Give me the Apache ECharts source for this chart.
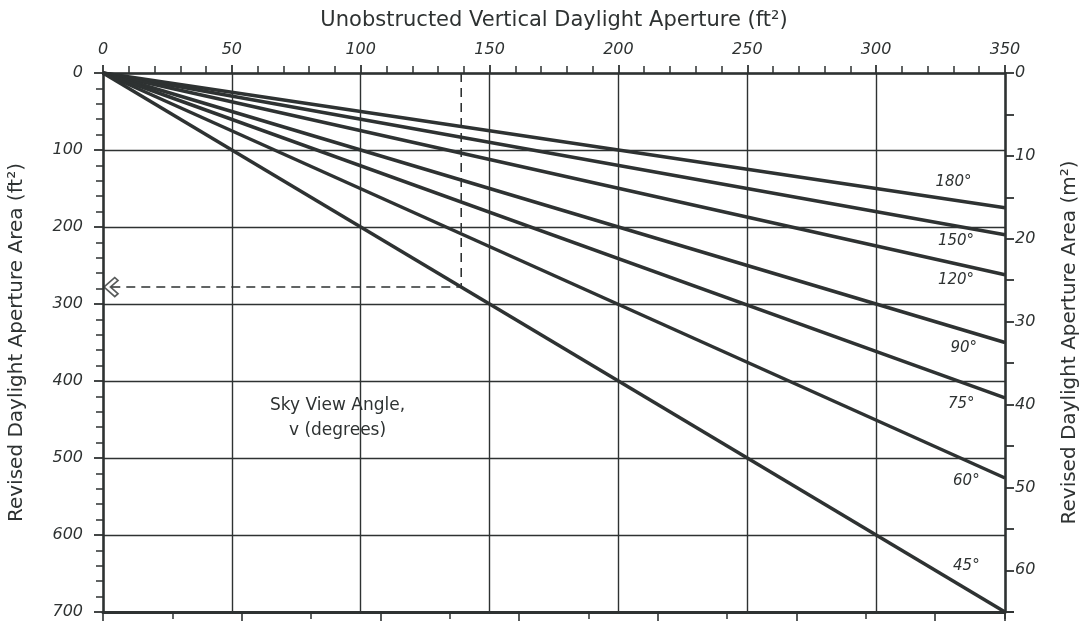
<!DOCTYPE html>
<html>
<head>
<meta charset="utf-8">
<script src="https://cdn.jsdelivr.net/npm/echarts@6/dist/echarts.min.js"></script>
<style>
html,body{margin:0;padding:0;background:#fff;}
#chart{width:1085px;height:628px;}
</style>
</head>
<body>
<div id="chart"></div>
<script>
// ---- data ----
const angleLabels = ['180°', '150°', '120°', '90°', '75°', '60°', '45°'];
// revised area (ft²) at unobstructed aperture = 350 ft²
const startX = 0;
const endX = 350;
const endValues = [175, 210, 262, 350, 422, 526, 700];
// label anchor positions (data units) for each angle label
const labelX = [330, 331, 331, 334, 333, 335, 335];
const labelY = [142, 218, 269, 357, 430, 530, 640];
// example reading (dashed construction line)
const exampleX = 139;
const exampleY = 278;
// axis tick values
const topTicks = [0, 50, 100, 150, 200, 250, 300, 350];
const leftTicks = [0, 100, 200, 300, 400, 500, 600, 700];
const rightTicks = [0, 10, 20, 30, 40, 50, 60];
const FT2_PER_M2 = 10.7639;

const INK = '#2e3232';
const FONT = 'DejaVu Sans';

const chart = echarts.init(document.getElementById('chart'), null, {renderer: 'canvas'});

const lineSeries = angleLabels.map((name, i) => ({
  name: name,
  type: 'line',
  xAxisIndex: 0,
  yAxisIndex: 0,
  data: [[startX, 0], [endX, endValues[i]]],
  symbol: 'none',
  lineStyle: {color: INK, width: 3.5},
  z: 5,
  silent: true,
  markPoint: {
    symbol: 'circle',
    symbolSize: 1,
    itemStyle: {color: 'rgba(0,0,0,0)'},
    label: {
      show: true,
      position: 'inside',
      formatter: name,
      color: INK,
      fontFamily: FONT,
      fontStyle: 'italic',
      fontSize: 15
    },
    data: [{coord: [labelX[i], labelY[i]]}]
  }
}));

const axisLabelStyle = {
  color: INK,
  fontFamily: FONT,
  fontStyle: 'italic',
  fontSize: 16
};

const option = {
  backgroundColor: '#ffffff',
  animation: false,
  grid: {left: 103, right: 80, top: 73, bottom: 16, containLabel: false, outerBoundsMode: 'none'},
  xAxis: [
    {
      type: 'value',
      position: 'top',
      min: topTicks[0],
      max: topTicks[topTicks.length - 1],
      interval: 50,
      name: 'Unobstructed Vertical Daylight Aperture (ft²)',
      nameLocation: 'middle',
      nameGap: 42,
      nameTextStyle: {color: INK, fontFamily: FONT, fontSize: 21},
      axisLine: {show: true, onZero: false, lineStyle: {color: INK, width: 2.5}},
      axisTick: {show: true, length: 8, lineStyle: {color: INK, width: 1.8}},
      minorTick: {show: true, splitNumber: 5, length: 7, lineStyle: {color: INK, width: 1.5}},
      splitLine: {show: true, lineStyle: {color: INK, width: 1.4}},
      axisLabel: Object.assign({margin: 15}, axisLabelStyle)
    },
    {
      type: 'value',
      position: 'bottom',
      min: 0,
      max: endX / FT2_PER_M2,
      interval: 5,
      axisLine: {show: true, onZero: false, lineStyle: {color: INK, width: 3}},
      axisTick: {show: true, length: 9, lineStyle: {color: INK, width: 1.6}},
      minorTick: {show: true, splitNumber: 2, length: 7, lineStyle: {color: INK, width: 1.5}},
      splitLine: {show: false},
      axisLabel: {show: false}
    }
  ],
  yAxis: [
    {
      type: 'value',
      position: 'left',
      inverse: true,
      min: leftTicks[0],
      max: leftTicks[leftTicks.length - 1],
      interval: 100,
      name: 'Revised Daylight Aperture Area (ft²)',
      nameLocation: 'middle',
      nameGap: 76,
      nameRotate: 90,
      nameTextStyle: {color: INK, fontFamily: FONT, fontSize: 20},
      axisLine: {show: true, onZero: false, lineStyle: {color: INK, width: 2.5}},
      axisTick: {show: true, length: 9, lineStyle: {color: INK, width: 1.8}},
      minorTick: {show: true, splitNumber: 5, length: 7, lineStyle: {color: INK, width: 1.5}},
      splitLine: {show: true, lineStyle: {color: INK, width: 1.4}},
      axisLabel: Object.assign({margin: 20}, axisLabelStyle)
    },
    {
      type: 'value',
      position: 'right',
      inverse: true,
      min: rightTicks[0],
      max: leftTicks[leftTicks.length - 1] / FT2_PER_M2,
      interval: 10,
      name: 'Revised Daylight Aperture Area (m²)',
      nameLocation: 'middle',
      nameGap: 55,
      nameRotate: 90,
      nameTextStyle: {color: INK, fontFamily: FONT, fontSize: 20},
      axisLine: {show: true, onZero: false, lineStyle: {color: INK, width: 2.5}},
      axisTick: {show: true, length: 9, lineStyle: {color: INK, width: 1.8}},
      minorTick: {show: true, splitNumber: 2, length: 9, lineStyle: {color: INK, width: 1.8}},
      splitLine: {show: false},
      axisLabel: Object.assign({
        margin: 10,
        showMaxLabel: false,
        formatter: v => (rightTicks.indexOf(v) >= 0 ? String(v) : '')
      }, axisLabelStyle)
    }
  ],
  series: lineSeries.concat([
    {
      name: 'example',
      type: 'line',
      xAxisIndex: 0,
      yAxisIndex: 0,
      data: [[exampleX, 0], [exampleX, exampleY], [0, exampleY]],
      symbol: 'none',
      lineStyle: {color: INK, width: 1.6, type: [9, 6]},
      z: 4,
      silent: true
    },
    {
      name: 'arrow',
      type: 'scatter',
      xAxisIndex: 0,
      yAxisIndex: 0,
      data: [[0, exampleY]],
      symbol: 'path://M10,0 L0,10 L10,20 L13,17 L6,10 L13,3 Z',
      symbolSize: [14, 19],
      symbolOffset: [8, 0],
      itemStyle: {color: '#ffffff', borderColor: INK, borderWidth: 1.6},
      z: 6,
      silent: true
    }
  ])
};

chart.setOption(option);

// Sky View Angle caption, placed at a data position
const cap = chart.convertToPixel({xAxisIndex: 0, yAxisIndex: 0}, [91, 448]);
chart.setOption({
  graphic: [{
    type: 'text',
    x: cap[0],
    y: cap[1],
    style: {
      text: 'Sky View Angle,\nv (degrees)',
      fill: INK,
      font: '17px "' + FONT + '"',
      align: 'center',
      verticalAlign: 'middle',
      lineHeight: 25
    },
    z: 10
  }]
});
</script>
</body>
</html>
